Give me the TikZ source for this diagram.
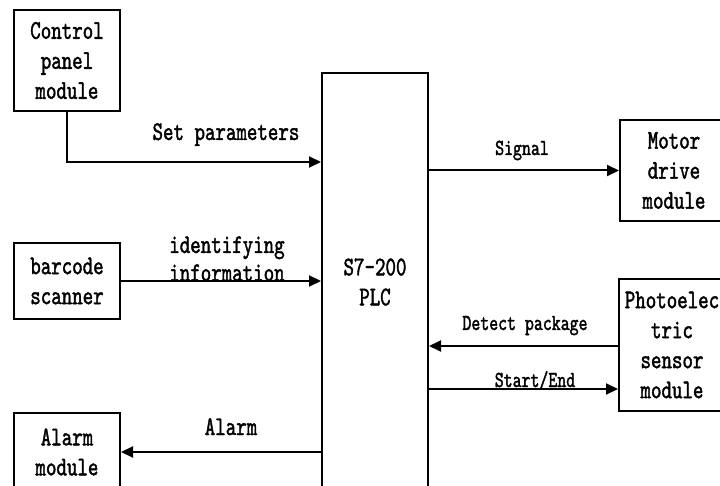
\documentclass[tikz,border=0pt]{standalone}
\usepackage{fontspec}
\usetikzlibrary{arrows.meta}
\newfontfamily\refmono{lmmono10-regular.otf}[FakeStretch=0.74,FakeBold=1.5]
\newcommand{\bxfont}{\fontsize{27}{30}\selectfont\refmono}
\newcommand{\lbfont}{\fontsize{27}{30}\selectfont\refmono}
\newcommand{\smfont}{\fontsize{23}{26}\selectfont\refmono}
\begin{document}
\begin{tikzpicture}[x=1pt,y=-1pt,
  box/.style={draw, rectangle, inner sep=0pt, align=center, font=\bxfont, line width=2pt},
  arr/.style={-{Triangle[length=12pt,width=11pt]}, line width=2pt},
  lbl/.style={font=\lbfont, inner sep=0pt, anchor=base},
  slbl/.style={font=\smfont, inner sep=0pt, anchor=base}]
\useasboundingbox (0,0) rectangle (720,486);
\fill[white] (0,0) rectangle (720,486);
\clip (0,0) rectangle (720,486);
% boxes
\node[box, minimum width=106pt, minimum height=101pt] (cp) at (67,60.5) {Control\\panel\\module};
\node[box, minimum width=106pt, minimum height=76pt] (bs) at (67,281) {barcode\\scanner};
\node[box, minimum width=106pt, minimum height=78pt] (al) at (67,452) {Alarm\\module};
\node[box, minimum width=106pt, minimum height=418pt] (plc) at (375,282) {S7-200\\PLC};
\node[box, minimum width=108pt, minimum height=101pt] (md) at (674,170.5) {Motor\\drive\\module};
\node[box, minimum width=106pt, minimum height=132pt] (ps) at (672,345) {Photoelec\\tric\\sensor\\module};
% connectors
\draw[arr] (cp.south) |- (plc.west |- 0,162);
\draw[arr] (bs.east) -- (plc.west |- bs.east);
\draw[arr] (plc.west |- al.east) -- (al.east);
\draw[arr] (plc.east |- md.west) -- (md.west);
\draw[arr] (ps.west |- 0,346) -- (plc.east |- 0,346);
\draw[arr] (plc.east |- 0,389) -- (ps.west |- 0,389);
% labels
\node[lbl] (lsp) at (226,140) {Set parameters};
\node[lbl] (lid1) at (227,253) {identifying};
\node[lbl] (lid2) at (227,281) {information};
\node[lbl] (lal) at (231,435) {Alarm};
\node[slbl] (lsg) at (522,155) {Signal};
\node[slbl] (ldp) at (525,330) {Detect package};
\node[slbl] (lse) at (535,387) {Start/End};
\end{tikzpicture}
\end{document}
